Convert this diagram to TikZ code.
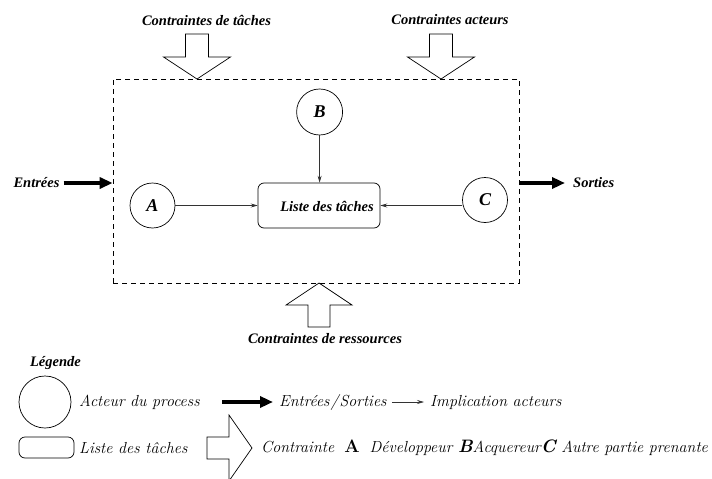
\documentclass[tikz,border=0pt]{standalone}
\usepackage{fontspec}
\newfontfamily\tms{Liberation Serif}
\usetikzlibrary{arrows.meta}
\tikzset{
  lbl/.style={font=\tms\bfseries\itshape\fontsize{14.5}{16}\selectfont, inner sep=0pt},
  big/.style={font=\tms\bfseries\itshape\fontsize{18}{20}\selectfont},
  leg/.style={font=\itshape\fontsize{16}{18}\selectfont, inner sep=0pt, anchor=west},
  actor/.style={draw, circle, line width=0.7pt, inner sep=0pt},
  tasks/.style={draw, rounded corners=6pt, line width=0.7pt, inner sep=0pt},
  thin/.style={line width=0.6pt, draw=black!80, -{Stealth[length=7pt,width=4pt,inset=2.5pt]}},
  thick/.style={line width=4pt, -{Triangle[length=13pt,width=11pt]}},
  hollow/.style={draw, line width=0.7pt, line join=miter},
}
\begin{document}
\begin{tikzpicture}[x=1pt,y=-1pt]
\useasboundingbox (0,0) rectangle (712,479);
% system box
\node[draw, dashed, dash pattern=on 5pt off 4pt, line width=0.7pt, minimum width=406pt, minimum height=204pt, inner sep=0pt] (sys) at (316,181) {};
% constraint arrows
\draw[hollow] (185.5,34) -- (208.5,34) -- (208.5,57) -- (230.5,57) -- (197,79) -- (163.5,57) -- (185.5,57) -- cycle;
\draw[hollow] (429.5,34) -- (452.5,34) -- (452.5,57) -- (474.5,57) -- (441,79) -- (407.5,57) -- (429.5,57) -- cycle;
\draw[hollow] (308,327) -- (330,327) -- (330,305) -- (352,305) -- (319,283) -- (286,305) -- (308,305) -- cycle;
\node[lbl] (ct) at (206.5,20) {Contraintes de tâches};
\node[lbl] (ca) at (450,20) {Contraintes acteurs};
\node[lbl] (cr) at (325,339) {Contraintes de ressources};
% actors and tasks
\node[actor, minimum size=45pt] (A) at (152.5,205.5) {};
\node[big] at (A) {A};
\node[actor, minimum size=46pt] (B) at (319.6,112) {};
\node[big] at (B) {B};
\node[actor, minimum size=45pt] (C) at (485,200) {};
\node[big] at (C) {C};
\node[tasks, minimum width=122pt, minimum height=45pt] (T) at (319,205.5) {};
\node[lbl] (Tl) at (327,206) {Liste des tâches};
\draw[thin] (A.east) -- (T.west);
\draw[thin] (C.west |- T.east) -- (T.east);
\draw[thin] (B.south) -- (B.south |- T.north);
% inputs / outputs
\node[lbl] (in) at (36.5,183) {Entrées};
\node[lbl, anchor=west] (out) at (573,183) {Sorties};
\draw[thick] (in.east) ++(4,0) coordinate (inS) -- (sys.west |- in);
\draw[thick] (sys.east |- out) -- ([xshift=-8pt]out.west);
% legend
\node[lbl] (leg) at (55.5,363) {Légende};
\node[actor, minimum size=52pt] (LA) at (45,402) {};
\node[leg] (l1) at (79,402) {Acteur du process};
\coordinate (t1) at (222,402);
\node[leg] (l2) at (279,402) {Entrées\kern1pt/\kern1pt Sorties};
\draw[thick] (t1) -- ([xshift=-6pt]l2.west);
\node[leg] (l3) at (430,402) {Implication acteurs};
\draw[thin] ([xshift=5pt]l2.east) -- ([xshift=-6pt]l3.west);
\node[tasks, minimum width=55pt, minimum height=21pt] (LT) at (46.5,447.5) {};
\node[leg] (l4) at (79,448) {Liste des tâches};
\draw[hollow] (207,437) -- (229,437) -- (229,415) -- (252,448) -- (229,481) -- (229,459) -- (207,459) -- cycle;
\node[leg] (l5) at (261,448) {Contrainte \;{\upshape\bfseries\fontsize{18}{20}\selectfont A}\; Développeur {\bfseries\fontsize{18}{20}\selectfont B}Acquereur{\bfseries\fontsize{18}{20}\selectfont C} Autre partie prenante};
\end{tikzpicture}
\end{document}
